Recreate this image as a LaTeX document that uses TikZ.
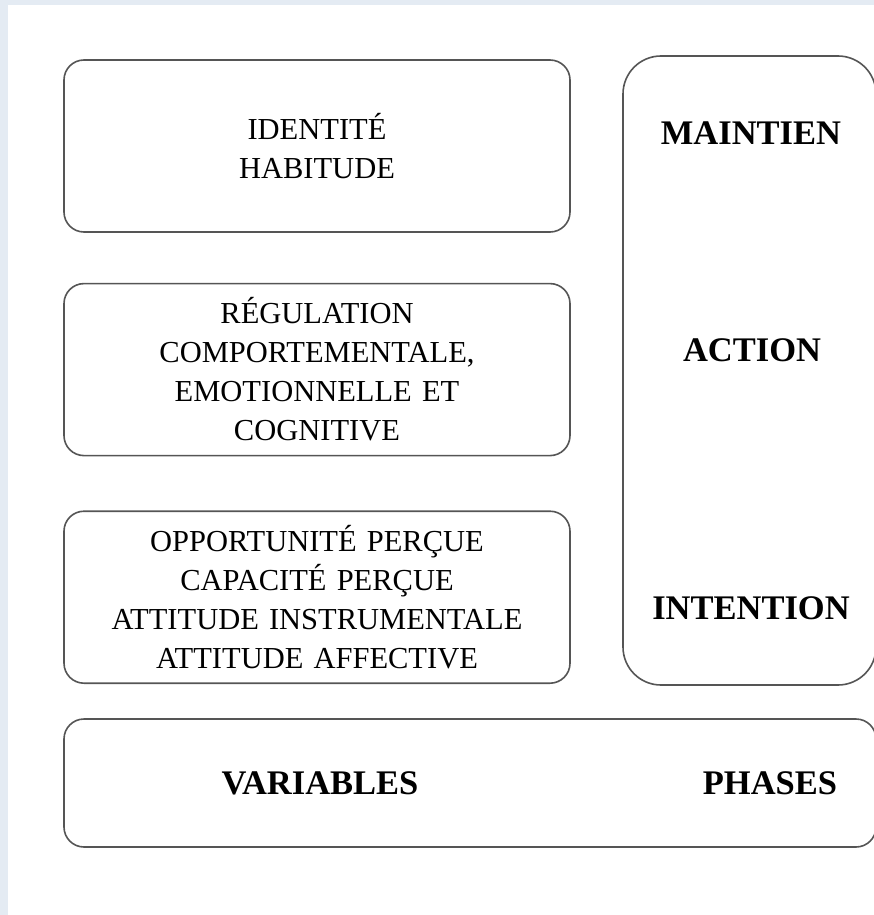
\documentclass[tikz,border=0pt]{standalone}
\usepackage{fontspec}
\setmainfont{Liberation Serif}
\usetikzlibrary{positioning}

\definecolor{pagetint}{RGB}{228,235,243}
\definecolor{edgegrey}{RGB}{85,85,85}

\tikzstyle{panel} = [rectangle, draw=edgegrey, line width=1.6pt, inner sep=0pt]
\tikzstyle{varbox} = [panel, rounded corners=20pt, text width=506pt, minimum height=172pt, align=center, font=\fontsize{30.5}{39}\selectfont]
\tikzstyle{phase} = [inner sep=0pt, font=\fontsize{34.5}{41}\selectfont\bfseries]

\begin{document}
\begin{tikzpicture}[x=1pt, y=-1pt]
        \tikzset{node distance = 50pt}
        % page with its tinted margin
        \useasboundingbox (0,0) rectangle (874,915);
        \clip (0,0) rectangle (874,915);
        \fill[pagetint] (0,0) rectangle (874,915);
        \fill[white] (8,5) rectangle (874,915);

        % left column: the variables
        \node (v1) at (317,146) [varbox] {IDENTITÉ\\HABITUDE};
        \node (v2) [varbox, below=of v1] {RÉGULATION\\COMPORTEMENTALE,\\EMOTIONNELLE ET\\COGNITIVE};
        \node (v3) [varbox, below=54pt of v2] {OPPORTUNITÉ PERÇUE\\CAPACITÉ PERÇUE\\ATTITUDE INSTRUMENTALE\\ATTITUDE AFFECTIVE};

        % right column: the phases
        \node (col) at (749.5,370.5) [panel, rounded corners=38pt, minimum width=253pt, minimum height=629pt] {};
        \node (p3) at (751,133) [phase] {MAINTIEN};
        \node (p2) at (752,350) [phase] {ACTION};
        \node (p1) at (751,608) [phase] {INTENTION};

        % bottom strip with the two headings
        \node (base) at (470,783) [panel, rounded corners=20pt, minimum width=812pt, minimum height=128pt] {};
        \node (hvar) at (320,783) [phase] {VARIABLES};
        \node (hphase) at (770,783) [phase] {PHASES};
\end{tikzpicture}
\end{document}
